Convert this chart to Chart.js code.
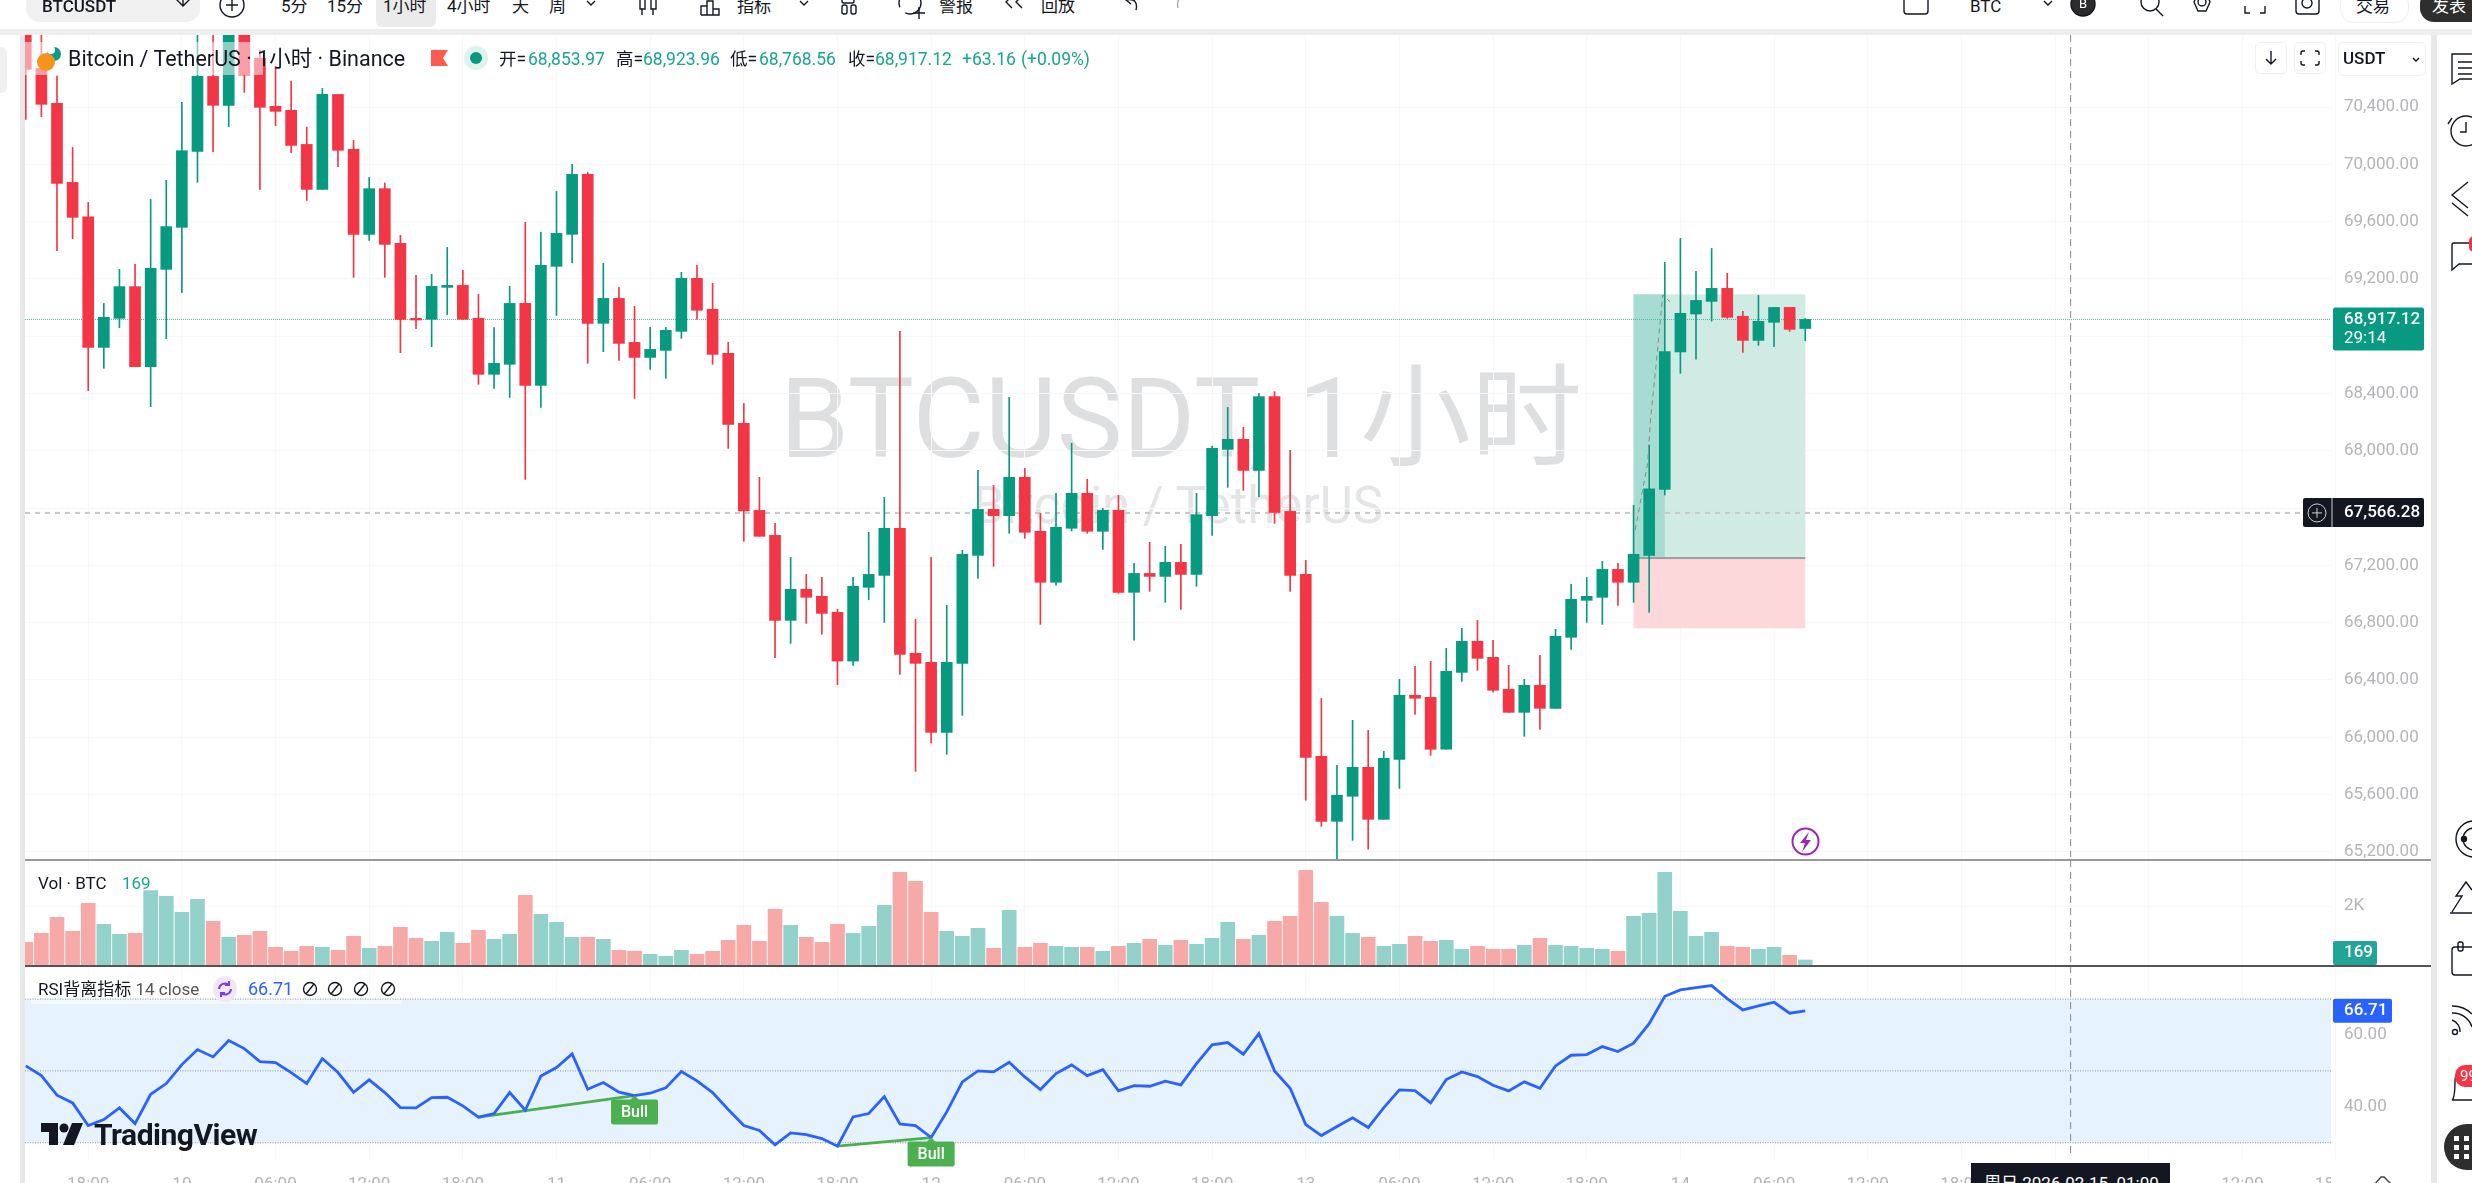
<!DOCTYPE html>
<html>
<head>
<meta charset="utf-8">
<title>BTCUSDT 1小时</title>
<script src="https://cdn.jsdelivr.net/npm/chart.js@4"></script>
<style>
  html, body { margin: 0; padding: 0; background: #fff; overflow: hidden; }
  #stage { position: relative; width: 2472px; height: 1183px; overflow: hidden; font-family: Roboto, "Noto Sans CJK SC", sans-serif; color: #131722; }
  canvas { position: absolute; z-index: 1; }
  .t { position: absolute; white-space: nowrap; z-index: 3; font-size: 17px; line-height: 20px; }
  .g { color: #1aa58e; }
  .box { position: absolute; z-index: 2; }
  .wm { position: absolute; white-space: nowrap; z-index: 0; color: #dedfe1; }
  svg.i { position: absolute; z-index: 3; fill: none; stroke: #131722; stroke-width: 1.4; overflow: visible; }
</style>
</head>
<body>
<div id="stage">
  <!-- watermark -->
  <div class="wm" style="left:780px;top:352px;font-size:111px;line-height:134px;">BTCUSDT, 1小时</div>
  <div class="wm" style="left:973px;top:476px;font-size:51px;line-height:60px;color:#e4e5e7;">Bitcoin / TetherUS</div>

  <canvas id="priceChart" width="2406" height="825" style="left:25px;top:35px;"></canvas>
  <canvas id="volChart" width="2406" height="105" style="left:25px;top:860px;"></canvas>
  <canvas id="rsiChart" width="2406" height="230" style="left:25px;top:966px;"></canvas>

  <!-- frame -->
  <div class="box" style="left:0;top:29px;width:2472px;height:6px;background:#eeeeee;"></div>
  <div class="box" style="left:20px;top:35px;width:5px;height:1148px;background:#e8e8e8;"></div>
  <div class="box" style="left:2431px;top:35px;width:6px;height:1148px;background:#e8e8e8;"></div>
  <div class="box" style="left:25px;top:859px;width:2406px;height:2px;background:#999;"></div>
  <div class="box" style="left:25px;top:965px;width:2406px;height:2px;background:#555;"></div>
  <div class="box" style="left:0;top:47px;width:7px;height:46px;background:#f0f0f0;border-radius:0 6px 6px 0;"></div>

  <!-- top toolbar -->
  <div class="box" style="left:26px;top:-10px;width:174px;height:32px;background:#f0f0f0;border-radius:14px;"></div>
  <div class="box" style="left:376px;top:-10px;width:60px;height:37px;background:#ebebeb;border-radius:6px;"></div>
  <div class="box" style="left:2340px;top:-10px;width:67px;height:31px;border:1px solid #eee;border-radius:14px;"></div>
  <div class="box" style="left:2420px;top:-10px;width:70px;height:32px;background:#2e2e2e;border-radius:14px;"></div>
  <div class="t" style="left:42px;top:-4px;font-weight:500;">BTCUSDT</div>
  <div class="t" style="left:281px;top:-4px;">5分</div>
  <div class="t" style="left:327px;top:-4px;">15分</div>
  <div class="t" style="left:383px;top:-4px;">1小时</div>
  <div class="t" style="left:447px;top:-4px;">4小时</div>
  <div class="t" style="left:512px;top:-4px;">天</div>
  <div class="t" style="left:549px;top:-4px;">周</div>
  <div class="t" style="left:737px;top:-4px;">指标</div>
  <div class="t" style="left:939px;top:-4px;">警报</div>
  <div class="t" style="left:1041px;top:-4px;">回放</div>
  <div class="t" style="left:1970px;top:-4px;">BTC</div>
  <div class="t" style="left:2356px;top:-4px;">交易</div>
  <div class="t" style="left:2432px;top:-4px;color:#fff;">发表</div>
  <svg class="i" style="left:0;top:0;" width="2472" height="30">
    <path d="M175 -2 l8 8 l8 -8 M183 6 v-8"/>
    <circle cx="232" cy="5" r="12"/><path d="M232 -1 v12 M226 5 h12"/>
    <path d="M587 1 l4 4 l4 -4 M800 1 l4 4 l4 -4 M2044 1 l4 4 l4 -4"/>
    <path d="M640 -3 v12 h5 v-12 M651 -3 v12 h5 v-12 M642 9 v6 M653 9 v6"/>
    <path d="M701 15 v-9 h6 v9 h-6 M707 15 v-14 h6 v14 M713 15 v-6 h6 v6 h-6 M701 15 h18"/>
    <rect x="842" y="-6" width="12" height="9" rx="2"/><rect x="842" y="5" width="5" height="9" rx="2"/><rect x="851" y="5" width="5" height="9" rx="2"/>
    <circle cx="910" cy="3" r="11" stroke-dasharray="22 8"/><path d="M919 7 v12 M913 13 h12"/>
    <path d="M1012 -4 l-6 6 l6 6 M1022 -4 l-6 6 l6 6"/>
    <path d="M1136 10 c2 -8 -2 -12 -10 -10 M1131 -4 l-5 4 l5 4"/>
    <path d="M1178 8 c-2 -8 2 -12 10 -10" stroke="#aaa"/>
    <rect x="1904" y="-8" width="24" height="22" rx="3"/>
    <circle cx="2150" cy="2" r="9"/><path d="M2156 9 l7 7"/>
    <path d="M2194 2 l4 -9 h8 l4 9 l-4 9 h-8 z"/><circle cx="2202" cy="2" r="4"/>
    <path d="M2245 6 v7 h5 M2260 13 h5 v-7"/>
    <rect x="2296" y="-8" width="23" height="22" rx="3"/><circle cx="2307" cy="3" r="5"/>
    <circle cx="2083" cy="4" r="12" fill="#2b2b2b"/>
  </svg>
  <div class="t" style="left:2079px;top:-6px;color:#fff;font-size:13px;">B</div>

  <!-- symbol legend -->
  <div class="box" style="left:25px;top:42px;width:238px;height:33px;background:rgba(255,255,255,0.52);z-index:2;"></div>
  <svg class="i" style="left:0;top:0;stroke:none;" width="60" height="80">
    <circle cx="54" cy="54" r="7" fill="#0a9a8a"/>
    <circle cx="46" cy="62" r="9" fill="#f7931a"/>
    <circle cx="51" cy="50" r="4" fill="#fff"/>
  </svg>
  <div class="t" style="left:68px;top:49px;font-size:21.5px;">Bitcoin / TetherUS · 1小时 · Binance</div>
  <svg class="i" style="left:431px;top:49px;stroke:none;" width="60" height="20">
    <path d="M0 1 h17 l-5 8 l5 8 h-17 z" fill="#ff5a4f"/>
    <circle cx="45" cy="9" r="12" fill="#dff3ee"/>
    <circle cx="45" cy="9" r="6" fill="#089981"/>
  </svg>
  <div class="t" style="left:499px;top:49px;font-size:17.5px;">开=</div>
  <div class="t g" style="left:528px;top:49px;font-size:17.5px;">68,853.97</div>
  <div class="t" style="left:616px;top:49px;font-size:17.5px;">高=</div>
  <div class="t g" style="left:643px;top:49px;font-size:17.5px;">68,923.96</div>
  <div class="t" style="left:730px;top:49px;font-size:17.5px;">低=</div>
  <div class="t g" style="left:759px;top:49px;font-size:17.5px;">68,768.56</div>
  <div class="t" style="left:848px;top:49px;font-size:17.5px;">收=</div>
  <div class="t g" style="left:875px;top:49px;font-size:17.5px;">68,917.12</div>
  <div class="t g" style="left:962px;top:49px;font-size:17.5px;">+63.16</div>
  <div class="t g" style="left:1021px;top:49px;font-size:17.5px;">(+0.09%)</div>

  <!-- chart corner buttons -->
  <div class="box" style="left:2255px;top:42px;width:32px;height:32px;border:1px solid #f0f0f0;border-radius:5px;box-sizing:border-box;z-index:3;"></div>
  <div class="box" style="left:2294px;top:42px;width:32px;height:32px;border:1px solid #f0f0f0;border-radius:5px;box-sizing:border-box;z-index:3;"></div>
  <div class="box" style="left:2338px;top:42px;width:88px;height:34px;border:1px solid #f0f0f0;border-radius:5px;box-sizing:border-box;z-index:3;"></div>
  <svg class="i" style="left:0;top:0;" width="2472" height="80">
    <path d="M2271 51 v13 M2266 59 l5 5 l5 -5"/>
    <path d="M2305 51 h-2 q-2 0 -2 2 v2 M2315 51 h2 q2 0 2 2 v2 M2305 65 h-2 q-2 0 -2 -2 v-2 M2315 65 h2 q2 0 2 -2 v-2"/>
    <path d="M2413 58 l3 3 l3 -3"/>
  </svg>
  <div class="t" style="left:2343px;top:48px;font-weight:500;">USDT</div>

  <!-- lightning marker -->
  <svg class="i" style="left:1791px;top:827px;stroke:#9c27b0;stroke-width:2;" width="30" height="30">
    <circle cx="14.5" cy="14.5" r="13"/>
    <path d="M18 5 l-9 11 h5 l-3 9 l9 -12 h-5 z" fill="#9c27b0" stroke="none"/>
  </svg>

  <!-- pane legends -->
  <div class="t" style="left:38px;top:873px;font-size:17px;">Vol · BTC</div>
  <div class="t g" style="left:122px;top:873px;font-size:17px;">169</div>
  <div class="t" style="left:38px;top:979px;font-size:17px;">RSI背离指标 <span style="color:#555;">14 close</span></div>
  <svg class="i" style="left:212px;top:975px;stroke:#7c3aed;stroke-width:2;" width="26" height="28">
    <ellipse cx="13" cy="14" rx="12" ry="13" fill="#efe8fd" stroke="none"/>
    <path d="M7 14 a6 6 0 0 1 10 -4 M19 14 a6 6 0 0 1 -10 4 M17 6 v4 h-4 M9 22 v-4 h4"/>
  </svg>
  <div class="t" style="left:248px;top:979px;color:#2962ff;font-size:18px;">66.71</div>
  <svg class="i" style="left:0;top:980px;" width="420" height="20">
    <circle cx="310" cy="9" r="6.5"/><path d="M306 14 l8 -10"/>
    <circle cx="335" cy="9" r="6.5"/><path d="M331 14 l8 -10"/>
    <circle cx="361" cy="9" r="6.5"/><path d="M357 14 l8 -10"/>
    <circle cx="388" cy="9" r="6.5"/><path d="M384 14 l8 -10"/>
  </svg>
  <div class="box" style="left:31px;top:1000px;width:371px;height:4px;background:rgba(255,255,255,0.5);z-index:2;"></div>

  <!-- TradingView mark -->
  <svg class="i" style="left:41px;top:1122px;stroke:none;" width="44" height="24">
    <path d="M0 1 h17 v22 h-9 v-13 h-8 z" fill="#131722"/>
    <circle cx="23" cy="6" r="4.5" fill="#131722"/>
    <path d="M31 1 h11 l-9 22 h-11 z" fill="#131722"/>
  </svg>
  <div class="t" style="left:94px;top:1119px;font-size:30px;line-height:32px;font-weight:700;letter-spacing:-0.5px;">TradingView</div>

  <!-- time axis covers -->
  <div class="box" style="left:2331px;top:1162px;width:100px;height:21px;background:#fff;z-index:2;"></div>
  <svg class="i" style="left:2372px;top:1175px;stroke:#444;" width="24" height="12"><path d="M2 10 l7 -8 h3 l8 8 M2 10 h18"/></svg>
  <div class="box" style="left:1971px;top:1163px;width:199px;height:20px;background:#131722;z-index:2;"></div>
  <div class="t" style="left:1984px;top:1173px;color:#fff;font-size:17px;">周日 2026-02-15&nbsp;&nbsp;01:00</div>

  <!-- right sidebar -->
  <svg class="i" style="left:0;top:0;" width="2472" height="1183">
    <path d="M2472 54 h-20 v30 l8 -5 h12 M2458 62 h14 M2458 68 h14 M2458 74 h14"/>
    <circle cx="2466" cy="131" r="15"/><path d="M2466 122 v10 h-6 M2452 118 l-4 6"/>
    <path d="M2468 182 l-16 13 l16 13 M2452 203 l16 13"/>
    <path d="M2472 243 h-18 q-2 0 -2 2 v25 l7 -6 h13"/>
    <circle cx="2474" cy="839" r="18"/><circle cx="2474" cy="839" r="11"/><circle cx="2464" cy="839" r="2.5" fill="#131722"/>
    <path d="M2452 912 l10 -16 l-6 0 l10 -14 l6 8 M2450 913 h22"/>
    <rect x="2452" y="947" width="30" height="28" rx="3"/><rect x="2458" y="942" width="5" height="9" rx="2"/>
    <path d="M2452 1006 a28 28 0 0 1 20 8 M2452 1013 a20 20 0 0 1 20 14 M2452 1020 a12 12 0 0 1 8 12"/><circle cx="2455" cy="1032" r="2.5"/>
    <path d="M2452 1100 q3 -2 3 -20 q0 -10 17 -10 M2452 1100 h20"/>
  </svg>
  <div class="box" style="left:2455px;top:1065px;width:30px;height:22px;background:#f23645;border-radius:10px;z-index:3;"></div>
  <div class="t" style="left:2460px;top:1066px;color:#fff;font-size:15px;">99</div>
  <div class="box" style="left:2469px;top:236px;width:10px;height:16px;background:#f23645;border-radius:5px;z-index:3;"></div>
  <div class="box" style="left:2444px;top:1124px;width:50px;height:46px;background:#2e2e2e;border-radius:23px;z-index:3;"></div>
  <svg class="i" style="left:2454px;top:1136px;stroke:none;fill:#fff;" width="18" height="24">
    <rect x="0" y="0" width="5" height="5"/><rect x="10" y="0" width="5" height="5"/>
    <rect x="0" y="9" width="5" height="5"/><rect x="10" y="9" width="5" height="5"/>
    <rect x="0" y="18" width="5" height="5"/><rect x="10" y="18" width="5" height="5"/>
  </svg>
</div>

<script>
// ===== Data =====
const opens = [71000,70670,70426,69874,69634,68722,68925,69146,68587,69267,69560,70091,70614,70412,71000,70740,70405,70377,70139,69825,70488,70105,69511,69830,69448,68925,68918,69141,69155,68925,68534,68604,69029,68457,69288,69511,69930,68890,69064,68757,68652,68701,68834,69204,68988,68680,68192,67584,67410,66816,67033,66984,66872,66532,67047,67130,67459,66586,66523,66034,66516,67270,67591,67547,67815,67438,67082,67459,67703,67438,67584,67012,67144,67123,67221,67137,67547,68010,68080,67863,68378,67577,67137,65867,65413,65588,65790,65427,65846,66293,66279,65916,66453,66670,66558,66335,66174,66363,66202,66698,66956,66977,67172,67082,67270,67731,68690,68955,69043,69134,68939,68771,68897,69001,68853.97];
const closes = [70663,70419,69867,69630,68722,68932,69146,68587,69274,69565,70095,70614,70412,71000,70623,70398,70370,70132,69825,70488,70098,69511,69830,69441,68918,68913,69148,69155,68918,68534,68611,69029,68457,69295,69518,69930,68890,69064,68750,68652,68708,68841,69204,68981,68673,68185,67580,67403,66816,67033,66977,66865,66532,67054,67137,67459,66579,66516,66034,66523,67277,67591,67547,67815,67431,67082,67466,67703,67438,67584,67012,67144,67123,67221,67137,67554,68017,68080,67863,68378,67570,67130,65860,65413,65595,65790,65427,65853,66293,66272,65916,66460,66670,66551,66328,66174,66363,66202,66705,66963,66984,67172,67082,67277,67735,68692,68960,69050,69134,68932,68771,68904,69001,68848,68917.12];
const highs = [71050,71000,70616,70118,69734,69029,69267,69302,69755,69888,70433,70950,70960,71050,71060,70798,70682,70582,70260,70530,70488,70167,69909,69870,69504,69225,69232,69420,69260,69092,68860,69148,69595,69525,69811,70000,69944,69309,69141,69008,68862,68862,69246,69295,69169,68757,68331,67815,67493,67256,67137,67116,66893,67116,67431,67675,68834,66823,67256,66921,67305,67863,67759,68373,67877,67563,67703,68052,67801,67598,67689,67214,67361,67333,67347,67703,68033,68303,68164,68401,68413,68003,67235,66272,65804,66118,66048,65902,66404,66495,66530,66621,66760,66816,66677,66502,66404,66572,66753,67068,67116,67228,67214,67619,68040,69316,69483,69253,69413,69239,68974,69085,69001,69001,68923.96];
const lows = [70314,70333,69397,69481,68420,68576,68860,68587,68308,68783,69104,69874,70088,70263,70502,69825,70270,70081,69748,69825,69984,69211,69469,69211,68685,68853,68727,68950,68918,68464,68436,68373,67801,68303,68946,69311,68611,68692,68631,68366,68569,68506,68785,68918,68604,68017,67368,67403,66556,66656,66795,66719,66367,66502,66961,66802,66439,65762,65958,65881,66153,67109,67193,67424,67389,66788,67061,67440,67424,67312,67005,66677,67019,66942,66893,67054,67410,67745,67724,67680,67493,67019,65560,65378,65140,65280,65218,65427,65643,66160,65874,65916,66390,66467,66314,66174,66006,66055,66202,66614,66802,66788,66921,66942,66872,67691,68541,68639,68906,68925,68687,68736,68727,68834,68768.56];
const volumes = [768,1074,1616,1141,2091,1379,1040,1074,2520,2328,1785,2226,1480,938,1006,1141,599,463,633,599,497,972,565,633,1277,904,802,1107,735,1175,870,1040,2362,1718,1446,938,938,870,497,463,362,294,497,362,463,836,1345,802,1887,1345,938,768,1379,1074,1311,2023,3141,2836,1785,1141,972,1243,565,1853,599,735,633,599,599,463,633,735,870,667,836,701,904,1446,870,1006,1480,1650,3209,2124,1650,1074,938,633,701,972,802,836,531,633,531,531,667,904,667,633,565,531,463,1650,1752,3141,1819,972,1107,633,599,531,599,328,169];
const rsi = [51.39,48.70,43.23,41.09,34.79,36.46,39.70,35.34,43.51,46.48,51.76,55.94,53.90,58.44,56.21,52.60,52.32,49.54,46.48,53.43,49.54,44.06,47.50,43.97,39.80,39.70,42.58,42.67,40.26,37.11,38.13,43.97,39.05,48.61,50.93,54.73,44.90,46.75,44.06,43.14,43.78,45.27,49.81,47.22,43.97,39.24,34.79,33.40,29.41,32.75,32.28,31.17,29.04,37.20,38.13,42.86,35.25,34.79,31.45,38.59,46.94,50.00,49.72,52.41,48.33,44.81,49.26,51.67,48.70,50.37,44.43,45.92,45.73,47.12,46.10,52.04,57.24,57.88,54.64,60.39,50.00,45.18,35.07,32.00,34.51,36.92,34.23,39.80,44.71,44.53,41.09,47.59,49.72,48.42,46.01,44.43,46.94,45.18,51.39,54.36,54.55,56.77,55.38,57.70,63.17,70.78,72.54,73.19,73.75,70.13,66.98,68.09,69.11,66.05,66.71];

const timeIdx = [4,10,16,22,28,34,40,46,52,58,64,70,76,82,88,94,100,106,112,118,124,130,136,142,148];
const timeLabels = ['18:00','10','06:00','12:00','18:00','11','06:00','12:00','18:00','12','06:00','12:00','18:00','13','06:00','12:00','18:00','14','06:00','12:00','18:00','15','06:00','12:00','18:00'];
const priceTicks = [70400,70000,69600,69200,68800,68400,68000,67600,67200,66800,66400,66000,65600,65200];
const volTicks = [2000];
const rsiTicks = [60,40];

// long position tool
const posFrom = 103, posTo = 114, posBandTo = 105;
const posTarget = 69092, posEntry = 67251, posStop = 66760;
const pathX = [103.1,103.9,104.1,104.43,104.87,105.33];
const pathY = [67447,67912,68238,68587,69088,69041];

// crosshair + tags
const crossIdx = 131;
const crossPrice = 67566.28;
const lastPrice = 68917.12;
const countdown = '29:14';
const lastVol = 169;
const lastRsi = 66.71;

// RSI divergence
const bullFrom = [29,52], bullTo = [39,58];

const UP = '#089981', DOWN = '#f23645';
const VOL_UP = '#93d2cb', VOL_DOWN = '#f7a9a7';
const GRID = '#f8f8f8', TICK = '#b4b5b8';
const FONT = 'Roboto, "Noto Sans CJK SC", sans-serif';
const X_MIN = -0.05, X_MAX = 147.68;

Chart.defaults.font.family = FONT;
Chart.defaults.font.size = 17;
Chart.defaults.color = TICK;
Chart.defaults.animation = false;

const isUp = closes.map((c, i) => c >= opens[i]);

function fmtPrice(v) {
  return v.toLocaleString('en-US', { minimumFractionDigits: 2, maximumFractionDigits: 2 });
}

function xScale(showLabels) {
  return {
    type: 'linear', min: X_MIN, max: X_MAX, offset: false, display: true,
    border: { display: false },
    grid: { color: GRID, offset: false, drawTicks: false },
    ticks: {
      display: showLabels, autoSkip: false, maxRotation: 0, padding: 15,
      font: { size: 17 },
      callback: (v, i) => timeLabels[i]
    },
    afterBuildTicks: a => { a.ticks = timeIdx.map(v => ({ value: v })); },
    afterFit: a => { a.height = showLabels ? 36 : 0; a.paddingLeft = 0; a.paddingRight = 0; }
  };
}

function yScale(min, max, ticks, fmt) {
  return {
    position: 'right', min, max,
    border: { display: false },
    grid: { color: GRID, drawTicks: false },
    ticks: { padding: 13, callback: fmt, font: { size: 17 } },
    afterBuildTicks: a => { a.ticks = ticks.map(v => ({ value: v })); },
    afterFit: a => { a.width = 100; a.paddingTop = 0; a.paddingBottom = 0; }
  };
}

const baseOptions = {
  responsive: false, maintainAspectRatio: false, devicePixelRatio: 1,
  layout: { padding: 0 },
  plugins: { legend: { display: false }, tooltip: { enabled: false } }
};

function hLine(chart, y, color, dash, width, x2) {
  const { ctx, chartArea: a } = chart;
  ctx.save();
  ctx.strokeStyle = color; ctx.lineWidth = width; ctx.setLineDash(dash);
  ctx.beginPath(); ctx.moveTo(a.left, y); ctx.lineTo(x2 || a.right, y); ctx.stroke();
  ctx.restore();
}

const crossLine = {
  id: 'crossLine',
  afterDatasetsDraw(chart) {
    const { ctx, chartArea: a } = chart;
    const x = chart.scales.x.getPixelForValue(crossIdx);
    ctx.save();
    ctx.strokeStyle = '#8a8a8a'; ctx.lineWidth = 1; ctx.setLineDash([7, 5]);
    ctx.beginPath(); ctx.moveTo(x, a.top); ctx.lineTo(x, a.bottom - 3); ctx.stroke();
    ctx.restore();
  }
};

function tag(ctx, x, y, w, h, bg) {
  ctx.fillStyle = bg;
  ctx.beginPath(); ctx.roundRect(x, y, w, h, 2); ctx.fill();
}

// position tool and price lines sit under the candles
const priceUnder = {
  id: 'priceUnder',
  beforeDatasetsDraw(chart) {
    const { ctx, chartArea: a, scales: { x, y } } = chart;
    const x1 = x.getPixelForValue(posFrom), x2 = x.getPixelForValue(posTo), xb = x.getPixelForValue(posBandTo);
    const yT = y.getPixelForValue(posTarget), yE = y.getPixelForValue(posEntry), yS = y.getPixelForValue(posStop);
    ctx.save();
    ctx.fillStyle = '#d0ebe4'; ctx.fillRect(x1, yT, x2 - x1, yE - yT);
    ctx.fillStyle = '#a7dcd2'; ctx.fillRect(x1, yT, xb - x1, yE - yT);
    ctx.fillStyle = '#fcd8db'; ctx.fillRect(x1, yE, x2 - x1, yS - yE);
    ctx.fillStyle = '#9e9e9e'; ctx.fillRect(x1, yE - 1, x2 - x1, 2);
    ctx.restore();
    hLine(chart, y.getPixelForValue(lastPrice), '#4db8a3', [1, 1], 1);
    hLine(chart, y.getPixelForValue(crossPrice), '#c8c8c8', [5, 5], 2, a.right - 28);
  }
};

const priceTags = {
  id: 'priceTags',
  afterDraw(chart) {
    const { ctx, chartArea: a, scales: { y } } = chart;
    const yLast = y.getPixelForValue(lastPrice), yCross = y.getPixelForValue(crossPrice);
    const left = a.right + 2, textX = a.right + 13;
    ctx.save();
    tag(ctx, left, yLast - 12, 91, 43, UP);
    ctx.fillStyle = '#fff'; ctx.textBaseline = 'middle'; ctx.textAlign = 'left';
    ctx.font = `500 17px ${FONT}`;
    ctx.fillText(fmtPrice(lastPrice), textX, yLast);
    ctx.font = `400 17px ${FONT}`;
    ctx.fillText(countdown, textX, yLast + 19);
    tag(ctx, a.right - 28, yCross - 15, 121, 29, '#131722');
    ctx.fillStyle = '#fff'; ctx.font = `500 17px ${FONT}`;
    ctx.fillText(fmtPrice(crossPrice), textX, yCross);
    ctx.strokeStyle = '#cfd0d2'; ctx.lineWidth = 1;
    ctx.beginPath(); ctx.arc(a.right - 14, yCross, 9, 0, Math.PI * 2);
    ctx.moveTo(a.right - 19, yCross); ctx.lineTo(a.right - 9, yCross);
    ctx.moveTo(a.right - 14, yCross - 5); ctx.lineTo(a.right - 14, yCross + 5);
    ctx.moveTo(a.right + 1, yCross - 15); ctx.lineTo(a.right + 1, yCross + 14);
    ctx.stroke();
    ctx.restore();
  }
};

const volTag = {
  id: 'volTag',
  afterDraw(chart) {
    const { ctx, chartArea: a } = chart;
    ctx.save();
    tag(ctx, a.right + 2, a.bottom - 24, 44, 24, '#22a597');
    ctx.fillStyle = '#fff'; ctx.font = `500 17px ${FONT}`;
    ctx.textBaseline = 'middle'; ctx.textAlign = 'left';
    ctx.fillText(String(lastVol), a.right + 13, a.bottom - 12);
    ctx.restore();
  }
};

const rsiExtras = {
  id: 'rsiExtras',
  beforeDatasetsDraw(chart) {
    const { ctx, chartArea: a, scales: { y } } = chart;
    ctx.save();
    ctx.fillStyle = '#e6f3fe';
    ctx.fillRect(a.left, y.getPixelForValue(70), a.right - a.left, y.getPixelForValue(30) - y.getPixelForValue(70));
    ctx.restore();
    [70, 50, 30].forEach(v => hLine(chart, y.getPixelForValue(v), '#8f959b', [1, 1.5], 1));
  },
  afterDraw(chart) {
    const { ctx, chartArea: a, scales: { x, y } } = chart;
    ctx.save();
    bullTo.forEach(idx => {
      const px = x.getPixelForValue(idx), py = y.getPixelForValue(rsi[idx]);
      ctx.fillStyle = '#4caf50';
      ctx.beginPath(); ctx.moveTo(px, py); ctx.lineTo(px - 5, py + 5); ctx.lineTo(px + 5, py + 5); ctx.fill();
      ctx.beginPath(); ctx.roundRect(px - 23.5, py + 4, 47, 25, 2); ctx.fill();
      ctx.fillStyle = '#fff'; ctx.font = `500 16px ${FONT}`;
      ctx.textAlign = 'center'; ctx.textBaseline = 'middle';
      ctx.fillText('Bull', px, py + 17);
    });
    tag(ctx, a.right + 2, y.getPixelForValue(lastRsi) - 12, 59, 24, '#2962ff');
    ctx.fillStyle = '#fff'; ctx.font = `500 17px ${FONT}`;
    ctx.textAlign = 'left'; ctx.textBaseline = 'middle';
    ctx.fillText(lastRsi.toFixed(2), a.right + 13, y.getPixelForValue(lastRsi));
    ctx.restore();
  }
};

// ===== Price pane =====
new Chart(document.getElementById('priceChart'), {
  type: 'bar',
  data: {
    datasets: [
      {
        label: 'wick', order: 3, barThickness: 1, grouped: false,
        data: highs.map((h, i) => ({ x: i, y: [lows[i], h] })),
        backgroundColor: isUp.map(u => (u ? UP : DOWN))
      },
      {
        label: 'body', order: 2, barThickness: 11, grouped: false,
        data: closes.map((c, i) => ({ x: i, y: [opens[i], c] })),
        backgroundColor: isUp.map(u => (u ? UP : DOWN))
      },
      {
        type: 'line', label: 'path', order: 1,
        data: pathX.map((v, i) => ({ x: v, y: pathY[i] })),
        borderColor: '#8a8a8a', borderWidth: 1, borderDash: [5, 4], pointRadius: 0
      }
    ]
  },
  options: {
    ...baseOptions,
    scales: {
      x: xScale(false),
      y: yScale(65143, 70903, priceTicks, v => fmtPrice(v))
    }
  },
  plugins: [priceUnder, crossLine, priceTags]
});

// ===== Volume pane =====
new Chart(document.getElementById('volChart'), {
  type: 'bar',
  data: {
    datasets: [{
      label: 'Vol', barThickness: 14,
      data: volumes.map((v, i) => ({ x: i, y: v })),
      backgroundColor: isUp.map(u => (u ? VOL_UP : VOL_DOWN))
    }]
  },
  options: {
    ...baseOptions,
    scales: {
      x: xScale(false),
      y: yScale(0, 3560, volTicks, v => `${v / 1000}K`)
    }
  },
  plugins: [crossLine, volTag]
});

// ===== RSI pane =====
new Chart(document.getElementById('rsiChart'), {
  type: 'line',
  data: {
    datasets: [
      {
        label: 'RSI', order: 1,
        data: rsi.map((v, i) => ({ x: i, y: v })),
        borderColor: '#2962ff', borderWidth: 2.8, pointRadius: 0, tension: 0
      },
      ...bullFrom.map((from, k) => ({
        label: 'Bull', order: 2,
        data: [{ x: from, y: rsi[from] }, { x: bullTo[k], y: rsi[bullTo[k]] }],
        borderColor: '#4caf50', borderWidth: 2.8, pointRadius: 0
      }))
    ]
  },
  options: {
    ...baseOptions,
    scales: {
      x: xScale(true),
      y: yScale(25.2, 79.2, rsiTicks, v => v.toFixed(2))
    }
  },
  plugins: [rsiExtras, crossLine]
});
</script>
</body>
</html>
